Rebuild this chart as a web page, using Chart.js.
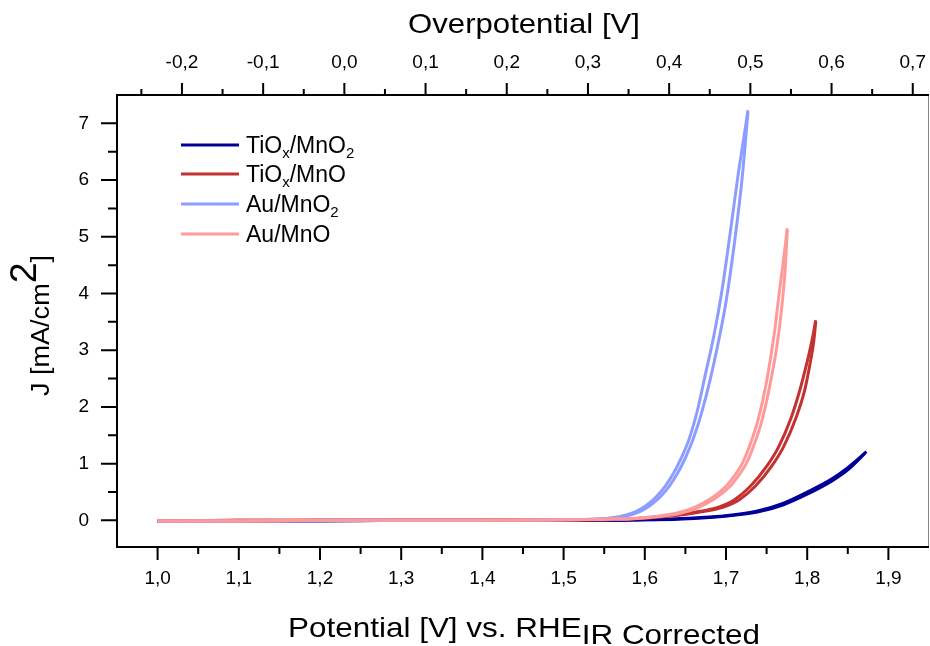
<!DOCTYPE html>
<html>
<head>
<meta charset="utf-8">
<script src="https://cdn.jsdelivr.net/npm/chart.js@4.4.1/dist/chart.umd.min.js"></script>
<style>
  html, body { margin: 0; padding: 0; background: #fff; }
  #wrap { width: 930px; height: 646px; }
</style>
</head>
<body>
<div id="wrap"><canvas id="lsvChart" width="930" height="646"></canvas></div>
<script>
// potential vs. RHE [V] and current density J [mA/cm2], two scans per sample
const tiox_mno2_v1 = [1.00, 1.10, 1.20, 1.30, 1.40, 1.50, 1.55, 1.60, 1.64, 1.68, 1.71, 1.74, 1.77, 1.80, 1.83, 1.85, 1.873];
const tiox_mno2_j1 = [-0.01, -0.01, 0, 0, 0, 0, 0, 0.01, 0.03, 0.06, 0.1, 0.17, 0.3, 0.5, 0.73, 0.93, 1.21];
const tiox_mno2_v2 = [1.00, 1.10, 1.20, 1.30, 1.40, 1.50, 1.55, 1.60, 1.64, 1.68, 1.71, 1.74, 1.77, 1.80, 1.83, 1.85, 1.871];
const tiox_mno2_j2 = [-0.02, -0.01, -0.01, 0, 0, 0, 0, 0.01, 0.02, 0.05, 0.09, 0.15, 0.27, 0.46, 0.69, 0.89, 1.18];

const tiox_mno_v1 = [1.00, 1.10, 1.20, 1.30, 1.40, 1.50, 1.55, 1.60, 1.63, 1.66, 1.69, 1.71, 1.73, 1.75, 1.765, 1.78, 1.79, 1.80, 1.806, 1.8105];
const tiox_mno_j1 = [-0.01, 0, 0, 0, 0, 0.01, 0.01, 0.04, 0.08, 0.14, 0.23, 0.36, 0.6, 0.95, 1.3, 1.8, 2.25, 2.8, 3.18, 3.53];
const tiox_mno_v2 = [1.00, 1.10, 1.20, 1.30, 1.40, 1.50, 1.55, 1.605, 1.635, 1.665, 1.696, 1.716, 1.736, 1.756, 1.771, 1.786, 1.797, 1.804, 1.808, 1.8105];
const tiox_mno_j2 = [-0.01, 0, 0, 0, 0, 0.01, 0.01, 0.04, 0.08, 0.14, 0.23, 0.36, 0.6, 0.95, 1.3, 1.8, 2.3, 2.8, 3.15, 3.5];

const au_mno2_v1 = [1.00, 1.10, 1.20, 1.30, 1.40, 1.50, 1.55, 1.57, 1.585, 1.595, 1.605, 1.615, 1.625, 1.635, 1.645, 1.655, 1.665, 1.675, 1.685, 1.695, 1.705, 1.715, 1.722, 1.727];
const au_mno2_j1 = [-0.01, -0.01, 0, 0, 0, 0.01, 0.03, 0.07, 0.13, 0.2, 0.3, 0.43, 0.6, 0.82, 1.1, 1.45, 1.95, 2.6, 3.25, 4.05, 5.05, 6.1, 6.75, 7.23];
const au_mno2_v2 = [1.00, 1.10, 1.20, 1.30, 1.40, 1.50, 1.55, 1.575, 1.59, 1.60, 1.61, 1.62, 1.63, 1.64, 1.65, 1.66, 1.67, 1.68, 1.69, 1.70, 1.71, 1.72, 1.727];
const au_mno2_j2 = [-0.01, -0.01, 0, 0, 0, 0.01, 0.03, 0.07, 0.13, 0.2, 0.3, 0.43, 0.6, 0.82, 1.1, 1.45, 1.9, 2.45, 3.1, 3.85, 4.85, 6.05, 7.2];

const au_mno_v1 = [1.00, 1.10, 1.20, 1.30, 1.40, 1.50, 1.55, 1.58, 1.60, 1.62, 1.64, 1.66, 1.68, 1.70, 1.71, 1.72, 1.73, 1.74, 1.75, 1.76, 1.765, 1.77, 1.7755];
const au_mno_j1 = [-0.01, -0.01, 0, 0, 0, 0.01, 0.02, 0.03, 0.05, 0.08, 0.13, 0.22, 0.37, 0.6, 0.78, 1.0, 1.35, 1.8, 2.45, 3.35, 3.95, 4.5, 5.15];
const au_mno_v2 = [1.00, 1.10, 1.20, 1.30, 1.40, 1.50, 1.55, 1.585, 1.605, 1.625, 1.645, 1.665, 1.685, 1.705, 1.715, 1.725, 1.735, 1.745, 1.755, 1.763, 1.769, 1.773, 1.7755];
const au_mno_j2 = [-0.01, -0.01, 0, 0, 0, 0.01, 0.02, 0.03, 0.05, 0.08, 0.13, 0.22, 0.37, 0.6, 0.78, 1.0, 1.35, 1.8, 2.45, 3.1, 3.8, 4.45, 5.12];

// axis ticks
const potentialTicks = [1.0, 1.1, 1.2, 1.3, 1.4, 1.5, 1.6, 1.7, 1.8, 1.9];
const potentialMinor = [1.05, 1.15, 1.25, 1.35, 1.45, 1.55, 1.65, 1.75, 1.85];
const overpotTicks = [-0.2, -0.1, 0.0, 0.1, 0.2, 0.3, 0.4, 0.5, 0.6, 0.7];
const overpotMinor = [-0.25, -0.15, -0.05, 0.05, 0.15, 0.25, 0.35, 0.45, 0.55, 0.65];
const jTicks = [0, 1, 2, 3, 4, 5, 6, 7];
const jMinor = [0.5, 1.5, 2.5, 3.5, 4.5, 5.5, 6.5];

const E_OER = 1.23;
const FONT = '"Liberation Sans", Arial, sans-serif';

const legendRows = [
  { color: '#000099', parts: [['TiO', 0], ['x', 1], ['/MnO', 0], ['2', 1]] },
  { color: '#c43131', parts: [['TiO', 0], ['x', 1], ['/MnO', 0]] },
  { color: '#8c9dff', parts: [['Au/MnO', 0], ['2', 1]] },
  { color: '#ff9a9a', parts: [['Au/MnO', 0]] }
];

const pts = (v, j) => v.map((x, i) => ({ x: x, y: j[i] }));
const line = (data, color, order) => ({
  data: data, borderColor: color, borderWidth: 3, showLine: true,
  pointRadius: 0, fill: false, cubicInterpolationMode: 'monotone', order: order,
  xAxisID: 'x', yAxisID: 'y'
});

const fmt = v => (Math.round(v * 10) / 10).toFixed(1).replace('.', ',');

// draws [text, size, dy] runs starting at x, squeezed/stretched to width w
function drawRuns(ctx, runs, x, y, w) {
  let total = 0;
  runs.forEach(r => { ctx.font = r[1] + 'px ' + FONT; total += ctx.measureText(r[0]).width; });
  const sx = w ? w / total : 1;
  ctx.save();
  ctx.translate(x, y);
  ctx.scale(sx, 1);
  let cx = 0;
  runs.forEach(r => {
    ctx.font = r[1] + 'px ' + FONT;
    ctx.fillText(r[0], cx, r[2]);
    cx += ctx.measureText(r[0]).width;
  });
  ctx.restore();
}

const frame = {
  id: 'frame',
  afterDraw(chart) {
    const { ctx, chartArea: a, scales } = chart;
    ctx.save();

    // right border
    ctx.lineWidth = 1;
    ctx.strokeStyle = '#888';
    ctx.beginPath(); ctx.moveTo(a.right - 0.5, a.top); ctx.lineTo(a.right - 0.5, a.bottom); ctx.stroke();

    ctx.strokeStyle = '#000';
    ctx.lineWidth = 2;
    ctx.beginPath();
    ctx.moveTo(a.left, a.top - 1); ctx.lineTo(a.left, a.bottom + 1);
    ctx.moveTo(a.left - 1, a.bottom); ctx.lineTo(a.right, a.bottom);
    ctx.moveTo(a.left - 1, a.top); ctx.lineTo(a.right, a.top);
    ctx.stroke();

    const vt = (x, y0, len) => { ctx.moveTo(x, y0); ctx.lineTo(x, y0 + len); };
    const ht = (y, x0, len) => { ctx.moveTo(x0, y); ctx.lineTo(x0 - len, y); };
    ctx.beginPath();
    potentialTicks.forEach(v => vt(scales.x.getPixelForValue(v), a.bottom, 13));
    potentialMinor.forEach(v => vt(scales.x.getPixelForValue(v), a.bottom, 7));
    overpotTicks.forEach(v => vt(scales.x2.getPixelForValue(v), a.top, -12));
    overpotMinor.forEach(v => vt(scales.x2.getPixelForValue(v), a.top, -6));
    jTicks.forEach(v => ht(scales.y.getPixelForValue(v), a.left, 16));
    jMinor.forEach(v => ht(scales.y.getPixelForValue(v), a.left, 9));
    ctx.stroke();

    // top tick labels
    ctx.fillStyle = '#000';
    ctx.font = '19px ' + FONT;
    ctx.textAlign = 'center';
    ctx.textBaseline = 'middle';
    overpotTicks.forEach(v => ctx.fillText(fmt(v), scales.x2.getPixelForValue(v), 63));

    // legend with subscripts
    ctx.textAlign = 'left';
    ctx.textBaseline = 'alphabetic';
    const rowY = [145, 174, 204, 234];
    legendRows.forEach((r, i) => {
      const y = rowY[i];
      ctx.strokeStyle = r.color;
      ctx.lineWidth = 3;
      ctx.beginPath(); ctx.moveTo(181, y); ctx.lineTo(239, y); ctx.stroke();
      drawRuns(ctx, r.parts.map(p => [p[0], p[1] ? 15 : 23, p[1] ? 5 : 0]), 246, y + 8, 0);
    });

    // axis titles
    drawRuns(ctx, [['Overpotential [V]', 28, 0]], 408, 33, 232);
    drawRuns(ctx, [['Potential [V] vs. RHE', 28, 0], ['IR Corrected', 28, 7]], 288, 637, 472);

    ctx.translate(49, 396);
    ctx.rotate(-Math.PI / 2);
    drawRuns(ctx, [['J [mA/cm', 26, 0], ['2', 36, -13], [']', 26, 0]], 0, 0, 141);
    ctx.restore();
  }
};

new Chart(document.getElementById('lsvChart').getContext('2d'), {
  type: 'scatter',
  data: {
    datasets: [
      line(pts(au_mno_v1, au_mno_j1), '#ff9a9a', 0),
      line(pts(au_mno_v2, au_mno_j2), '#ff9a9a', 0),
      line(pts(au_mno2_v1, au_mno2_j1), '#8c9dff', 1),
      line(pts(au_mno2_v2, au_mno2_j2), '#8c9dff', 1),
      line(pts(tiox_mno_v1, tiox_mno_j1), '#c43131', 2),
      line(pts(tiox_mno_v2, tiox_mno_j2), '#c43131', 2),
      line(pts(tiox_mno2_v1, tiox_mno2_j1), '#000099', 3),
      line(pts(tiox_mno2_v2, tiox_mno2_j2), '#000099', 3)
    ]
  },
  options: {
    responsive: false,
    animation: false,
    layout: { padding: { left: 0, right: 1, top: 0, bottom: 0 } },
    plugins: { legend: { display: false }, tooltip: { enabled: false } },
    scales: {
      x: {
        type: 'linear', position: 'bottom', min: 0.95, max: 1.95,
        grid: { display: false, drawTicks: true, tickLength: 13 },
        border: { display: false },
        afterBuildTicks: s => { s.ticks = potentialTicks.map(v => ({ value: v })); },
        afterFit: s => { s.height = 99; },
        ticks: { color: '#000', font: { family: FONT, size: 19 }, padding: 7, maxRotation: 0, callback: v => fmt(v) }
      },
      x2: {
        type: 'linear', position: 'top', min: 0.95 - E_OER, max: 1.95 - E_OER,
        grid: { display: false, drawTicks: false },
        border: { display: false },
        afterBuildTicks: s => { s.ticks = overpotTicks.map(v => ({ value: v })); },
        afterFit: s => { s.height = 95; },
        ticks: { display: false }
      },
      y: {
        type: 'linear', position: 'left', min: -0.47, max: 7.5,
        grid: { display: false, drawTicks: true, tickLength: 16 },
        border: { display: false },
        afterBuildTicks: s => { s.ticks = jTicks.map(v => ({ value: v })); },
        afterFit: s => { s.width = 117; },
        ticks: { color: '#000', font: { family: FONT, size: 19 }, padding: 12, callback: v => String(v) }
      }
    }
  },
  plugins: [frame]
});
</script>
</body>
</html>
